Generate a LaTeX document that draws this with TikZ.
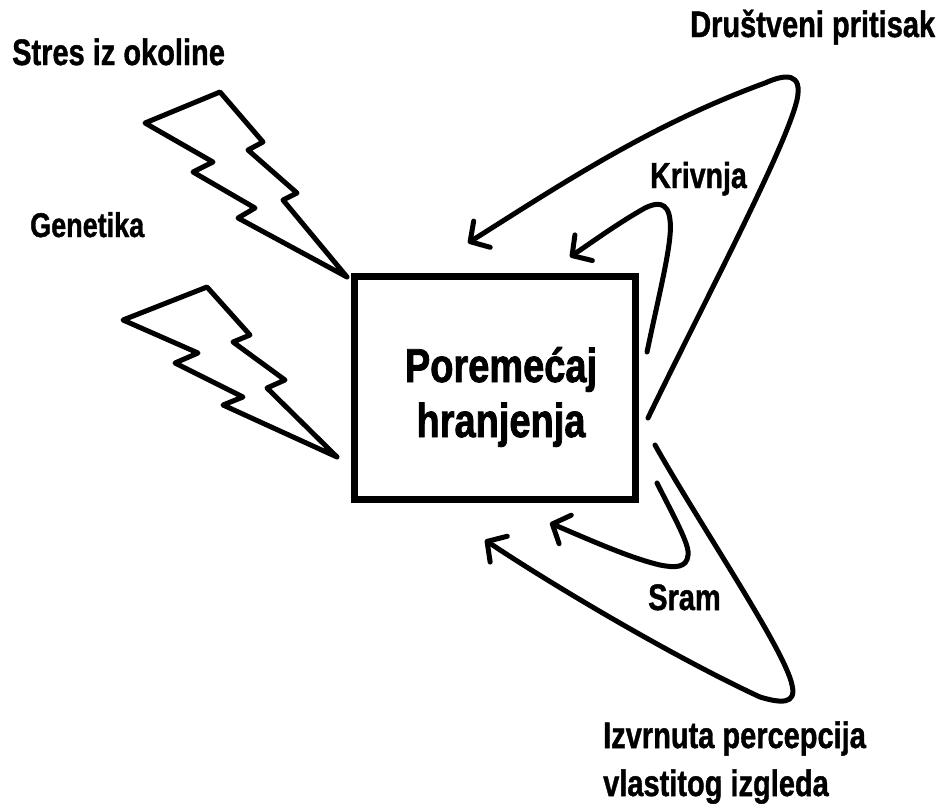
\documentclass[tikz,border=0pt]{standalone}
\usepackage{fontspec}
\setmainfont{Liberation Sans}
\newfontfamily\heavy{Liberation Sans}[UprightFont={* Bold}, UprightFeatures={FakeBold=1.3}]
\newfontfamily\heavier{Liberation Sans}[UprightFont={* Bold}, UprightFeatures={FakeBold=1.8}]
\usetikzlibrary{arrows.meta}
\newcommand{\vstretch}[1]{\scalebox{1}[1.27]{#1}}
\newcommand{\tstretch}[1]{\scalebox{1}[1.25]{#1}}
\begin{document}
\begin{tikzpicture}[x=1pt,y=-1pt,
  lbl/.style={anchor=base west, inner sep=0pt, font=\heavy\fontsize{29}{34}\selectfont},
  ttl/.style={anchor=base, inner sep=0pt, font=\heavier\fontsize{38}{44}\selectfont},
  bolt/.style={line width=5pt, line join=round},
  loopline/.style={line width=5pt, line cap=round, -{Straight Barb[length=14pt,width=31pt,line cap=round,line join=round]}},
  boxstyle/.style={draw, line width=7pt, minimum width=281pt, minimum height=223pt, inner sep=0pt},
]
\useasboundingbox (0,0) rectangle (949,803);

% labels
\node[lbl] (stres) at (12,65) {\vstretch{Stres iz okoline}};
\node[lbl, font=\heavy\fontsize{27}{32}\selectfont] (gen) at (30,237) {\vstretch{Genetika}};
\node[lbl] (drus) at (690,37) {\vstretch{Društveni pritisak}};
\node[lbl, font=\heavy\fontsize{28.5}{32}\selectfont] (kriv) at (650,188) {\vstretch{Krivnja}};
\node[lbl] (sram) at (648,610) {\vstretch{Sram}};
\node[lbl] (izv1) at (603,748) {\vstretch{Izvrnuta percepcija}};
\node[lbl] (izv2) at (603,796) {\vstretch{vlastitog izgleda}};

% central box and its title
\node[boxstyle] (box) at (494.5,387.5) {};
\node[ttl] (t1) at (501,382) {\tstretch{Poremećaj}};
\node[ttl] (t2) at (501,437) {\tstretch{hranjenja}};

% lightning bolts
\draw[bolt] (220,92) -- (145,123) -- (213,162) -- (193,172) -- (255,208) -- (238,218)
  -- (347,277) -- (283,200) -- (297,193) -- (248,150) -- (263,142) -- cycle;
\draw[bolt] (207,287) -- (123,320) -- (198,353) -- (175,363) -- (243,397) -- (223,405)
  -- (337,457) -- (267,388) -- (285,380) -- (233,342) -- (250,335) -- cycle;

% loop arrows
\coordinate (dS) at (648,418);
\coordinate (dT) at (468,243);
\draw[loopline] (dS) .. controls (700,310) and (785,150) .. (797,100)
  .. controls (803,72) and (785,74) .. (765,83)
  .. controls (650,125) and (560,185) .. (dT);

\coordinate (kS) at (647,352);
\coordinate (kT) at (570,257);
\draw[loopline] (kS) .. controls (660,290) and (673,240) .. (670,220)
  .. controls (668,200) and (655,203) .. (645,208)
  .. controls (620,222) and (595,240) .. (kT);

\coordinate (sS) at (657,483);
\coordinate (sT) at (550,523);
\draw[loopline] (sS) .. controls (673,515) and (690,545) .. (688,555)
  .. controls (687,568) and (675,568) .. (660,565)
  .. controls (630,558) and (590,540) .. (sT);

\coordinate (iS) at (655,445);
\coordinate (iT) at (485,540);
\draw[loopline] (iS) .. controls (700,525) and (785,650) .. (792,685)
  .. controls (797,705) and (780,703) .. (760,697)
  .. controls (680,660) and (560,590) .. (iT);
\end{tikzpicture}
\end{document}
